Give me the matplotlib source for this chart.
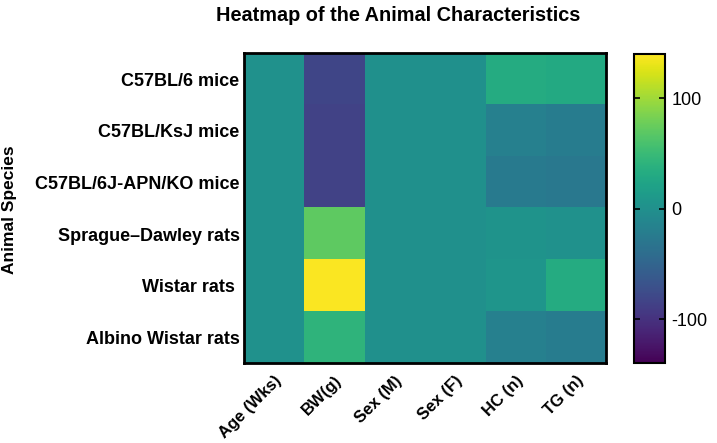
import matplotlib.pyplot as plt
import numpy as np

# ------------------------------------
# Data Setup
# ------------------------------------
species = ['C57BL/6 mice', 'C57BL/KsJ mice', 'C57BL/6J-APN/KO mice',
           'Sprague–Dawley rats', 'Wistar rats ', 'Albino Wistar rats']
features = ['Age (Wks)', 'BW(g)', 'Sex (M)', 'Sex (F)', 'HC (n)', 'TG (n)']

age = [2, 2, 2, 2, 2, 2]
bw = [-82, -85, -85, 70, 138, 42]
sex_m = [1, 1, 0, 1, 1, 1]
sex_f = [1, 1, 1, 1, 1, 1]
hc = [32, -18, -25, 4, 6, -18]
tg = [30, -22, -28, 2, 32, -22]

values = np.array([age, bw, sex_m, sex_f, hc, tg]).T

plt.rcParams['font.family'] = ['Liberation Sans', 'DejaVu Sans']

# ------------------------------------
# Figure Setup
# ------------------------------------
fig = plt.figure(figsize=(7.17, 4.43), dpi=100)
ax = fig.add_axes([0.340, 0.180, 0.505, 0.700])
cax = fig.add_axes([0.884, 0.180, 0.043, 0.698])

im = ax.imshow(values, cmap='viridis', vmin=-140, vmax=140, aspect='auto')

ax.set_xticks(range(len(features)))
ax.set_xticklabels(features, rotation=45, ha='right', rotation_mode='anchor',
                   fontsize=12, weight='bold')
ax.set_yticks(range(len(species)))
ax.set_yticklabels(species, fontsize=13, weight='bold')
ax.tick_params(length=0, pad=3)
ax.tick_params(axis='x', pad=7)
for spine in ax.spines.values():
    spine.set_linewidth(2)

fig.text(10 / 717, 0.527, 'Animal Species', rotation=90,
         ha='center', va='center', fontsize=12.5, weight='bold')

fig.text(0.555, 0.966, 'Heatmap of the Animal Characteristics',
         ha='center', va='center', fontsize=14.3, weight='bold')

# ------------------------------------
# Colorbar
# ------------------------------------
cb = fig.colorbar(im, cax=cax, ticks=[-100, 0, 100])
cb.ax.set_yticklabels(['-100', '0', '100'])
cb.ax.tick_params(direction='in', left=True, right=True, length=4,
                  width=1.2, labelsize=13, pad=5)
cb.outline.set_linewidth(1.5)

fig.savefig('out.png', dpi=100)
